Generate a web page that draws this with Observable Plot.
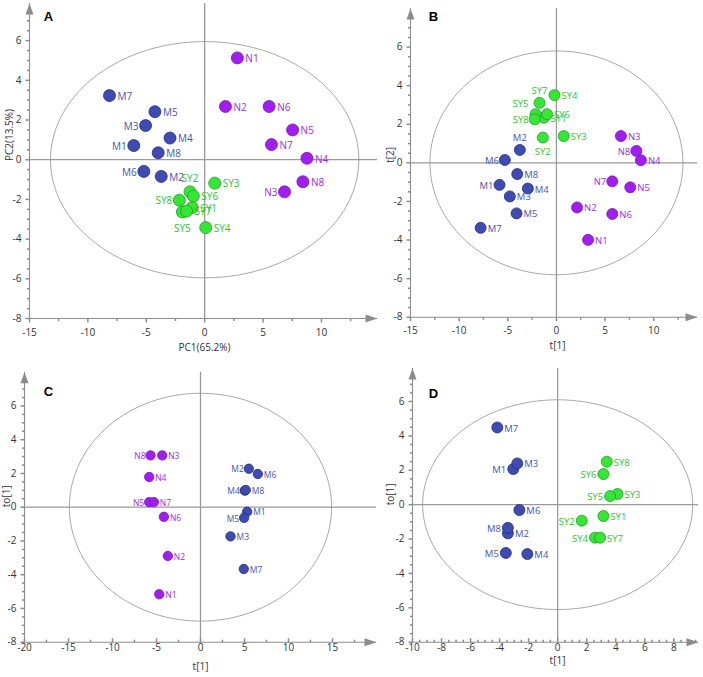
<!DOCTYPE html>
<html><head><meta charset="utf-8">
<script src="https://cdn.jsdelivr.net/npm/d3@7"></script>
<script src="https://cdn.jsdelivr.net/npm/@observablehq/plot@0.6"></script>
<style>
body{margin:0;background:#fff;}
#wrap{position:relative;width:703px;height:677px;overflow:hidden;background:#fff;}
#wrap svg{position:absolute;}
</style></head><body><div id="wrap"></div>
<script>
// ---------- data ----------
const namesM = ["M1","M2","M3","M4","M5","M6","M7","M8"];
const namesN = ["N1","N2","N3","N4","N5","N6","N7","N8"];
const namesSY = ["SY1","SY2","SY3","SY4","SY5","SY6","SY7","SY8"];

// Panel A: PCA scores
const aMx = [-6.07,-3.72,-5.06,-2.97,-4.26,-5.21,-8.15,-3.98];
const aMy = [0.71,-0.84,1.72,1.09,2.42,-0.59,3.23,0.35];
const aNx = [2.8,1.78,6.84,8.76,7.53,5.52,5.72,8.41];
const aNy = [5.13,2.68,-1.62,0.07,1.5,2.68,0.76,-1.11];
const aSYx = [-1.06,-1.26,0.86,0.09,-1.91,-0.97,-1.55,-2.17];
const aSYy = [-2.41,-1.62,-1.18,-3.42,-2.63,-1.83,-2.59,-2.04];

// Panel B: PLS-DA scores
const bMx = [-5.85,-3.76,-4.79,-2.94,-4.1,-5.3,-7.79,-4.03];
const bMy = [-1.14,0.67,-1.74,-1.33,-2.62,0.15,-3.37,-0.58];
const bNx = [3.25,2.12,6.63,8.68,7.59,5.74,5.74,8.21];
const bNy = [-3.99,-2.31,1.39,0.14,-1.27,-2.65,-0.96,0.62];
const bSYx = [-1.3,-1.4,0.75,-0.2,-2.15,-0.96,-1.74,-2.23];
const bSYy = [2.34,1.31,1.39,3.51,2.52,2.52,3.11,2.26];

// Panel C: OPLS-DA N vs M
const cNx = [-4.69,-3.71,-4.35,-5.83,-5.83,-4.16,-5.3,-5.68];
const cNy = [-5.16,-2.89,3.07,1.79,0.3,-0.57,0.3,3.07];
const cMx = [5.3,5.49,3.41,5.03,4.96,6.51,4.92,5.15];
const cMy = [-0.27,2.28,-1.73,0.98,-0.63,1.97,-3.66,1.02];

// Panel D: OPLS-DA M vs SY
const dMx = [-3.06,-3.43,-2.78,-2.09,-3.57,-2.64,-4.16,-3.43];
const dMy = [2.07,-1.67,2.4,-2.87,-2.81,-0.31,4.49,-1.35];
const dSYx = [3.15,1.66,4.12,2.57,3.61,3.15,2.92,3.38];
const dSYy = [-0.66,-0.93,0.62,-1.92,0.5,1.78,-1.92,2.5];

// ellipse semi-axes (Hotelling T2)
const ellA = [13.2, 5.95], ellB = [13.0, 5.8], ellC = [14.9, 6.75], ellD = [9.3, 6.1];

// tick values
const majA_x = [-15,-10,-5,0,5,10];
const majC_x = [-20,-15,-10,-5,0,5,10,15];
const majD_x = [-10,-8,-6,-4,-2,0,2,4,6,8];
const maj_y = [-8,-6,-4,-2,0,2,4,6];

// ---------- styling ----------
const dotFill = {M:"#3d4bb3", N:"#a01ff0", SY:"#35e635"};
const dotStroke = {M:"#26307a", N:"#7a14b8", SY:"#20a020"};
const txtFill = {M:"#4855a8", N:"#9a2ee0", SY:"#2fbf2f"};
const AX = "#8c8c8c";

function pts(groups){
  const out = [];
  for (const [g, names, xs, ys] of groups) names.forEach((n,i)=>out.push({name:n, group:g, x:xs[i], y:ys[i]}));
  return out;
}
function range(a,b,s){const o=[];for(let v=a;v<=b+1e-9;v+=s)o.push(+v.toFixed(3));return o;}
function ellipsePts([rx,ry]){const o=[];for(let i=0;i<=180;i++){const t=i/180*2*Math.PI;o.push({x:rx*Math.cos(t),y:ry*Math.sin(t)});}return o;}

const sym = {
  down: l=>({draw(c){c.moveTo(0,0);c.lineTo(0,l);}}),
  up: l=>({draw(c){c.moveTo(0,0);c.lineTo(0,-l);}}),
  left: l=>({draw(c){c.moveTo(0,0);c.lineTo(-l,0);}}),
  arrowUp: {draw(c){c.moveTo(0,0);c.lineTo(4,11);c.lineTo(-4,11);c.closePath();}},
  arrowRight: {draw(c){c.moveTo(0,0);c.lineTo(-12,-4);c.lineTo(-12,4);c.closePath();}}
};

function panel(cfg){
  const [x0,x1] = cfg.xd, [y0,y1] = cfg.yd;
  const P = cfg.points;
  const placeOf = d => cfg.place[d.name] || "r";
  const lab = cfg.lab;
  const offs = {
    r:{textAnchor:"start", dx:lab.r, dy:1},
    l:{textAnchor:"end", dx:lab.l, dy:1},
    t:{textAnchor:"middle", dx:0, dy:lab.t},
    b:{textAnchor:"middle", dx:0, dy:lab.b},
    lt:{textAnchor:"end", dx:lab.l-1, dy:-10}
  };
  const xTickSym = cfg.xIn ? sym.up : sym.down;
  const marks = [
    Plot.line(ellipsePts(cfg.ell), {x:"x", y:"y", stroke:"#a8a8a8", strokeWidth:1}),
    Plot.ruleX([0], {stroke:"#9a9a9a", strokeWidth:1.3}),
    Plot.ruleY([0], {stroke:"#9a9a9a", strokeWidth:1.3}),
    Plot.ruleX([x0], {stroke:AX, strokeWidth:1.1}),
    Plot.ruleY([y0], {stroke:AX, strokeWidth:1.1}),
    Plot.dot([0], {x:x0, y:y1, symbol:sym.arrowUp, fill:AX, stroke:"none"}),
    Plot.dot([0], {x:x1, y:y0, symbol:sym.arrowRight, fill:AX, stroke:"none"}),
    Plot.dot(cfg.majX, {x:d=>d, y:y0, symbol:xTickSym(4), stroke:AX, fill:"none"}),
    Plot.dot(cfg.minX, {x:d=>d, y:y0, symbol:xTickSym(2.5), stroke:AX, fill:"none"}),
    Plot.dot(maj_y, {x:x0, y:d=>d, symbol:sym.left(4), stroke:AX, fill:"none"}),
    Plot.dot(cfg.minY, {x:x0, y:d=>d, symbol:sym.left(2.5), stroke:AX, fill:"none"}),
    Plot.dot(P, {x:"x", y:"y", r:cfg.r, fill:d=>dotFill[d.group], stroke:d=>dotStroke[d.group], strokeWidth:0.8})
  ];
  for (const k of Object.keys(offs)) {
    const sub = P.filter(d=>placeOf(d)===k);
    if (sub.length) marks.push(Plot.text(sub, {x:"x", y:"y", text:"name", fill:d=>txtFill[d.group], fontSize:cfg.fs, ...offs[k]}));
  }
  marks.push(
    Plot.text([cfg.letter], {frameAnchor:"top-left", text:d=>d, dx:cfg.letterOff[0], dy:cfg.letterOff[1], fontSize:13, fontWeight:"bold", fontFamily:"'Liberation Sans', Arial, sans-serif", fill:"#000", textAnchor:"middle", lineAnchor:"middle"}),
    Plot.text([cfg.xLabel], {frameAnchor:"bottom", text:d=>d, dx:cfg.xLabOff[0], dy:cfg.xLabOff[1], fontSize:10, fill:"#333", lineAnchor:"middle"}),
    Plot.text([cfg.yLabel], {frameAnchor:"left", text:d=>d, dx:cfg.yLabOff, rotate:-90, fontSize:10, fill:"#333", lineAnchor:"middle"})
  );
  const svg = Plot.plot({
    width: cfg.w, height: cfg.h,
    marginLeft: cfg.m[3], marginRight: cfg.m[1], marginTop: cfg.m[0], marginBottom: cfg.m[2],
    style: {background:"transparent", overflow:"visible", fontFamily:"'Open Sans', sans-serif", fontSize:"10px", color:"#333"},
    x: {domain:[x0,x1], ticks:cfg.majX, tickSize:0, tickPadding:cfg.xPad, tickFormat:d=>String(d), label:null},
    y: {domain:[y0,y1], ticks:maj_y, tickSize:0, tickPadding:8, tickFormat:d=>String(d), label:null},
    color: {type:"identity"},
    marks
  });
  svg.style.left = cfg.pos[0] + "px";
  svg.style.top = cfg.pos[1] + "px";
  document.getElementById("wrap").appendChild(svg);
}

panel({
  letter:"A", pos:[0,0], w:390, h:360, m:[3,13,42,29], xd:[-15,14.8], yd:[-8,7.87],
  majX:majA_x, minX:range(-12.5,12.5,5), minY:range(-7.5,7.5,0.5).filter(v=>v%2!==0),
  xIn:false, xPad:10, ell:ellA, r:6, fs:10,
  lab:{r:8, l:-7, t:-13, b:17},
  place:{M3:"l", M1:"l", M6:"l", SY8:"l", N3:"l", SY2:"t", SY5:"b"},
  points: pts([["M",namesM,aMx,aMy],["N",namesN,aNx,aNy],["SY",namesSY,aSYx,aSYy]]),
  letterOff:[19,13], xLabel:"PC1(65.2%)", xLabOff:[1,29], yLabel:"PC2(13.5%)", yLabOff:-20
});
panel({
  letter:"B", pos:[360,0], w:343, h:360, m:[8,6,43.3,50], xd:[-15,14.5], yd:[-8,8],
  majX:majA_x, minX:range(-12.5,12.5,5), minY:range(-7.5,7.5,0.5).filter(v=>v%2!==0),
  xIn:false, xPad:10, ell:ellB, r:5.5, fs:9.5,
  lab:{r:7, l:-6, t:-12, b:14},
  place:{SY7:"t", M2:"t", SY2:"b", SY5:"lt", SY8:"l", M6:"l", M1:"l", N8:"l", N7:"l"},
  points: pts([["M",namesM,bMx,bMy],["N",namesN,bNx,bNy],["SY",namesSY,bSYx,bSYy]]),
  letterOff:[23,8], xLabel:"t[1]", xLabOff:[3.5,28.3], yLabel:"t[2]", yLabOff:-20
});
panel({
  letter:"C", pos:[0,360], w:390, h:317, m:[11.7,14,35.3,24], xd:[-20,20], yd:[-8,8],
  majX:majC_x, minX:range(-17.5,17.5,5), minY:range(-7.5,7.5,0.5).filter(v=>v%2!==0),
  xIn:true, xPad:1.5, ell:ellC, r:4.7, fs:8.5,
  lab:{r:6, l:-5, t:-10, b:12},
  place:{N8:"l", N5:"l", M2:"l", M4:"l", M5:"l"},
  points: pts([["N",namesN,cNx,cNy],["M",namesM,cMx,cMy]]),
  letterOff:[24,20], xLabel:"t[1]", xLabOff:[0,24.3], yLabel:"to[1]", yLabOff:-18
});
panel({
  letter:"D", pos:[360,360], w:343, h:317, m:[8,5,35.3,52], xd:[-10,9.7], yd:[-8,7.92],
  majX:majD_x, minX:range(-9.5,9.5,0.5).filter(v=>v%2!==0), minY:range(-7.5,7.5,0.5).filter(v=>v%2!==0),
  xIn:true, xPad:1.5, ell:ellD, r:5.5, fs:9.5,
  lab:{r:7, l:-7, t:-12, b:14},
  place:{M1:"l", M8:"l", M5:"l", SY6:"l", SY5:"l", SY2:"l", SY4:"l"},
  points: pts([["M",namesM,dMx,dMy],["SY",namesSY,dSYx,dSYy]]),
  letterOff:[21,25], xLabel:"t[1]", xLabOff:[2,18.3], yLabel:"to[1]", yLabOff:-22
});
</script>
</body></html>
